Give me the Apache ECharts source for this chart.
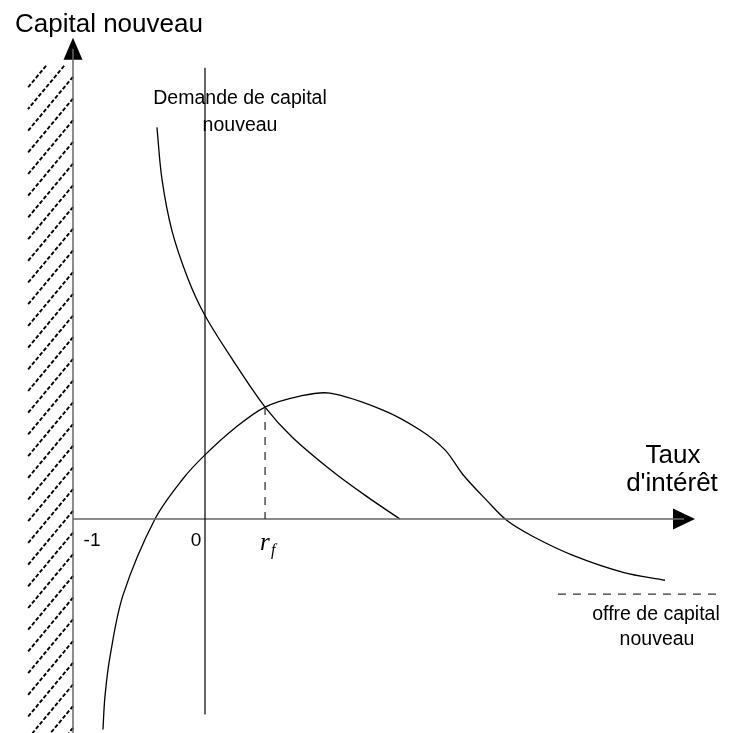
<!DOCTYPE html>
<html>
<head>
<meta charset="utf-8">
<script src="https://cdn.jsdelivr.net/npm/echarts@6/dist/echarts.min.js"></script>
<style>
html,body{margin:0;padding:0;background:#fff;}
#main{width:729px;height:733px;}
</style>
</head>
<body>
<div id="main"></div>
<script>
// courbe de demande de capital nouveau (x = taux d'intérêt, y = capital)
var demandX = [-0.364, -0.326, -0.250, -0.129, 0, 0.212, 0.455, 0.659, 0.970, 1.227, 1.477];
var demandY = [3.935, 3.415, 2.895, 2.415, 2.045, 1.595, 1.125, 0.825, 0.475, 0.225, 0];

// courbe d'offre de capital nouveau
var supplyX = [-0.773, -0.758, -0.720, -0.621, -0.379, -0.167, 0, 0.227, 0.455, 0.720, 0.947,
               1.348, 1.629, 1.818, 1.955, 2.136, 2.288, 2.485, 2.788, 3.167, 3.485];
var supplyY = [-2.115, -1.785, -1.385, -0.765, 0, 0.405, 0.645, 0.915, 1.125, 1.235, 1.265,
               1.095, 0.895, 0.695, 0.445, 0.185, -0.015, -0.175, -0.365, -0.535, -0.615];

// équilibre
var rf = 0.455;
var rfLevel = 1.125;

// graduations
var tickValues = [-1, 0, rf];
var tickLabels = ['-1', '0', 'r'];

// axes et repères
var yAxisX = -1;
var yAxisRange = [-2.15, 4.725];
var xAxisRange = [-1, 3.629];
var zeroLineRange = [-1.965, 4.535];
var hatchX = [-1.341, -1];
var hatchY = [-2.15, 4.555];
var offreKeyX = [2.674, 3.879];
var offreKeyY = -0.755;

function pairs(xs, ys) {
    return xs.map(function (x, i) { return [x, ys[i]]; });
}

var chart = echarts.init(document.getElementById('main'));

var font = "'Liberation Sans', Arial, sans-serif";
var black = '#000';

function seg(data, w, color, dash) {
    return {
        type: 'line', data: data, symbol: 'none', silent: true, animation: false,
        lineStyle: { color: color || black, width: w || 1.2, type: dash || 'solid' }
    };
}

// courbe lisse passant par les points (spline paramétrée par la longueur des cordes)
function curve(data) {
    return {
        type: 'custom',
        silent: true,
        data: data,
        renderItem: function (params, api) {
            if (params.dataIndex !== 0) return;
            var pts = data.map(function (d) { return api.coord(d); });
            var n = pts.length, d = [], m = [];
            for (var i = 0; i < n - 1; i++) {
                d.push(Math.hypot(pts[i + 1][0] - pts[i][0], pts[i + 1][1] - pts[i][1]));
            }
            for (var j = 0; j < n; j++) {
                var a = pts[Math.max(j - 1, 0)], b = pts[Math.min(j + 1, n - 1)];
                var len = (j > 0 ? d[j - 1] : 0) + (j < n - 1 ? d[j] : 0);
                m.push([(b[0] - a[0]) / len, (b[1] - a[1]) / len]);
            }
            var path = 'M' + pts[0][0] + ' ' + pts[0][1];
            for (var k = 0; k < n - 1; k++) {
                var s = d[k] / 3;
                path += ' C' + (pts[k][0] + m[k][0] * s) + ' ' + (pts[k][1] + m[k][1] * s) + ' ' +
                    (pts[k + 1][0] - m[k + 1][0] * s) + ' ' + (pts[k + 1][1] - m[k + 1][1] * s) + ' ' +
                    pts[k + 1][0] + ' ' + pts[k + 1][1];
            }
            return {
                type: 'path',
                shape: { pathData: path },
                style: { fill: 'none', stroke: black, lineWidth: 1.3 }
            };
        }
    };
}

var option = {
    animation: false,
    grid: { left: 7, top: 11.5, width: 712.8, height: 725 },
    xAxis: { type: 'value', min: -1.5, max: 3.9, show: false },
    yAxis: { type: 'value', min: -2.15, max: 5.1, show: false },
    series: [
        // hachures à gauche de l'axe
        {
            type: 'custom',
            silent: true,
            data: [[hatchX[0], hatchY[0]]],
            renderItem: function (params, api) {
                var p0 = api.coord([hatchX[0], hatchY[1]]);
                var p1 = api.coord([hatchX[1], hatchY[0]]);
                var left = p0[0], top = p0[1], right = p1[0], bottom = p1[1];
                var w = right - left, rise = w * 1.2, step = 21.7;
                var children = [];
                for (var yr = top - rise; yr < bottom; yr += step) {
                    var x1 = right, y1 = yr, x2 = left, y2 = yr + rise;
                    if (y2 < top) continue;
                    if (y1 < top) { x1 = right - (top - y1) / rise * w; y1 = top; }
                    if (y2 > bottom) { x2 = left + (y2 - bottom) / rise * w; y2 = bottom; }
                    children.push({
                        type: 'line',
                        shape: { x1: x1, y1: y1, x2: x2, y2: y2 },
                        style: { stroke: black, lineWidth: 1.9, lineDash: [4, 2] }
                    });
                }
                return { type: 'group', children: children };
            }
        },
        // axe vertical (capital)
        seg([[yAxisX, yAxisRange[0]], [yAxisX, yAxisRange[1]]], 1.5, '#666'),
        // axe horizontal (taux)
        seg([[xAxisRange[0], 0], [xAxisRange[1], 0]], 1.5, '#666'),
        // droite r = 0
        seg([[0, zeroLineRange[0]], [0, zeroLineRange[1]]], 1.2),
        // demande
        curve(pairs(demandX, demandY)),
        // offre
        curve(pairs(supplyX, supplyY)),
        // pointillés r_f
        seg([[rf, rfLevel], [rf, 0]], 1.2, '#222', [8, 7]),
        // repère pointillé de l'offre
        seg([[offreKeyX[0], offreKeyY], [offreKeyX[1], offreKeyY]], 1.2, '#333', [8, 7]),
        // flèches des axes
        {
            type: 'scatter',
            silent: true,
            symbol: 'triangle',
            itemStyle: { color: black, opacity: 1 },
            data: [
                { value: [yAxisX, yAxisRange[1]], symbolSize: [19, 22], symbolRotate: 0 },
                { value: [xAxisRange[1], 0], symbolSize: [21, 22], symbolRotate: -90 }
            ]
        }
    ]
};
chart.setOption(option);

// textes
var graphics = [
    { type: 'text', x: 15, y: 25, style: { text: 'Capital nouveau', font: '26px ' + font, fill: black, textAlign: 'left', textVerticalAlign: 'middle' } },
    { type: 'text', x: 240, y: 99, style: { text: 'Demande de capital', font: '19.5px ' + font, fill: black, textAlign: 'center', textVerticalAlign: 'middle' } },
    { type: 'text', x: 240, y: 126, style: { text: 'nouveau', font: '19.5px ' + font, fill: black, textAlign: 'center', textVerticalAlign: 'middle' } },
    { type: 'text', x: 673, y: 456, style: { text: 'Taux', font: '26px ' + font, fill: black, textAlign: 'center', textVerticalAlign: 'middle' } },
    { type: 'text', x: 672, y: 484, style: { text: "d'intérêt", font: '26px ' + font, fill: black, textAlign: 'center', textVerticalAlign: 'middle' } },
    { type: 'text', x: 656, y: 615, style: { text: 'offre de capital', font: '19.5px ' + font, fill: black, textAlign: 'center', textVerticalAlign: 'middle' } },
    { type: 'text', x: 657, y: 640, style: { text: 'nouveau', font: '19.5px ' + font, fill: black, textAlign: 'center', textVerticalAlign: 'middle' } }
];

var tickDx = [19, -9, 0];
tickValues.forEach(function (v, i) {
    var p = chart.convertToPixel({ gridIndex: 0 }, [v, 0]);
    if (i < 2) {
        graphics.push({ type: 'text', x: p[0] + tickDx[i], y: p[1] + 22, style: { text: tickLabels[i], font: '19px ' + font, fill: black, textAlign: 'center', textVerticalAlign: 'middle' } });
    } else {
        graphics.push({ type: 'text', x: p[0] - 5, y: p[1] + 24, style: { text: tickLabels[i], font: 'italic 25px "Liberation Serif", "Times New Roman", serif', fill: black, textAlign: 'left', textVerticalAlign: 'middle' } });
        graphics.push({ type: 'text', x: p[0] + 6, y: p[1] + 32, style: { text: 'f', font: 'italic 16px "Liberation Serif", "Times New Roman", serif', fill: black, textAlign: 'left', textVerticalAlign: 'middle' } });
    }
});

chart.setOption({ graphic: graphics });
</script>
</body>
</html>
